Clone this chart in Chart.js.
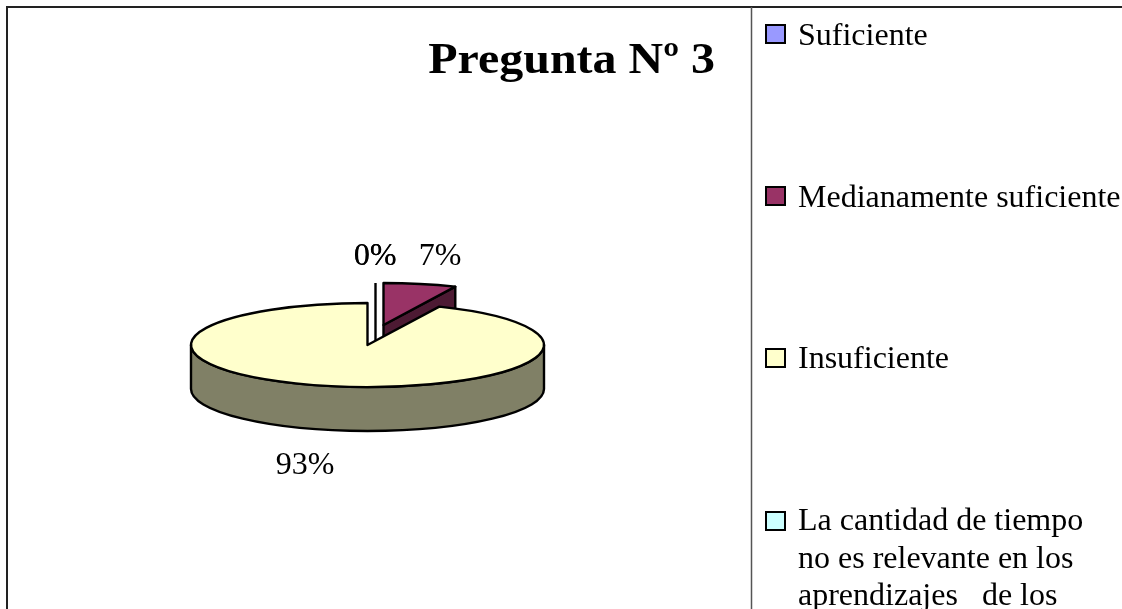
<!DOCTYPE html>
<html><head><meta charset="utf-8">
<style>html,body{margin:0;padding:0;background:#fff;overflow:hidden}canvas{display:block}</style>
<script src="https://cdn.jsdelivr.net/npm/chart.js@4/dist/chart.umd.min.js"></script>
</head><body><canvas id="c" width="1122" height="609"></canvas>
<script>
const chartTitle = 'Pregunta Nº 3';
const categories = ['Suficiente','Medianamente suficiente','Insuficiente','La cantidad de tiempo no es relevante en los aprendizajes de los'];
const legendLines = [['Suficiente'],['Medianamente suficiente'],['Insuficiente'],['La cantidad de tiempo','no es relevante en los','aprendizajes   de los']];
const seriesValues = [0,1,14,0];
const sliceColors = ['#9999FF','#993366','#FFFFCC','#CCFFFF'];
const sideColors = ['#4d4d80','#4d1a33','#808066','#668080'];
const explodeX = [8,16,0,0];
const explodeY = [-20,-20,0,0];
const labelX = [375,440,305,375.4];
const labelY = [265,265,474,265];
const legendTop = [25,187,349,512];
const legendBase = [45,207,368,530];
const SERIF = '"Liberation Serif","Times New Roman",serif';
const squash = 42/176.5, depth = 44;

function wedge(ctx,x,y,r,ry,a0,a1){
  ctx.beginPath();ctx.moveTo(x,y);ctx.ellipse(x,y,r,ry,0,a0,a1);ctx.closePath();
}
const pie3d = {
  id:'pie3d',
  beforeDatasetDraw(chart){
    const ctx = chart.ctx, arcs = chart.getDatasetMeta(0).data;
    ctx.save();
    ctx.strokeStyle='#222';ctx.lineWidth=2;
    ctx.beginPath();ctx.moveTo(1122,7);ctx.lineTo(7,7);ctx.lineTo(7,609);ctx.stroke();
    ctx.strokeStyle='#555';ctx.lineWidth=1.5;
    ctx.beginPath();ctx.moveTo(751.5,7);ctx.lineTo(751.5,609);ctx.stroke();
    ctx.strokeStyle='#000';ctx.lineWidth=2.4;ctx.lineJoin='round';
    const order = [0,1,3,2];
    order.forEach(i=>{
      const a = arcs[i], r = a.outerRadius, ry = r*squash;
      const x = a.x+explodeX[i], y = a.y+explodeY[i];
      const s = a.startAngle, e = a.endAngle;
      if(e-s < 1e-6){
        if(i===0){
          ctx.beginPath();ctx.moveTo(x,y-ry);ctx.lineTo(x,y+depth);ctx.stroke();
        }
        return;
      }
      const fromA = Math.max(s, 0), toA = Math.min(e, Math.PI);
      if(toA>fromA){
        ctx.beginPath();
        ctx.ellipse(x,y,r,ry,0,fromA,toA);
        ctx.lineTo(x+Math.cos(toA)*r, y+Math.sin(toA)*ry+depth);
        ctx.ellipse(x,y+depth,r,ry,0,toA,fromA,true);
        ctx.closePath();
        ctx.fillStyle=sideColors[i];ctx.fill();ctx.stroke();
      }
      if(e-s < Math.PI){
        const px=x+Math.cos(e)*r, py=y+Math.sin(e)*ry;
        ctx.beginPath();ctx.moveTo(x,y);ctx.lineTo(px,py);ctx.lineTo(px,py+depth);ctx.lineTo(x,y+depth);ctx.closePath();
        ctx.fillStyle=sideColors[i];ctx.fill();ctx.stroke();
      }
      wedge(ctx,x,y,r,ry,s,e);
      ctx.fillStyle=sliceColors[i];ctx.fill();ctx.stroke();
    });
    ctx.restore();
    return false;
  },
  afterDraw(chart){
    const ctx = chart.ctx;
    ctx.save();
    ctx.fillStyle='#000';ctx.textBaseline='alphabetic';
    ctx.save();
    ctx.translate(715,73);ctx.scale(1.09,1);
    ctx.font='bold 44px '+SERIF;ctx.textAlign='right';
    ctx.fillText(chartTitle,0,0);
    ctx.restore();
    const total = seriesValues.reduce((p,v)=>p+v,0);
    ctx.font='32px '+SERIF;ctx.textAlign='center';
    seriesValues.forEach((v,i)=>ctx.fillText(Math.round(v/total*100)+'%',labelX[i],labelY[i]));
    ctx.textAlign='left';
    legendLines.forEach((lines,i)=>{
      ctx.fillStyle=sliceColors[i];ctx.strokeStyle='#000';ctx.lineWidth=2;
      ctx.fillRect(766,legendTop[i],19,18);ctx.strokeRect(766,legendTop[i],19,18);
      ctx.fillStyle='#000';
      lines.forEach((t,k)=>ctx.fillText(t,798,legendBase[i]+k*37.5));
    });
    ctx.restore();
  }
};
new Chart(document.getElementById('c'),{
  type:'pie',
  data:{labels:categories,datasets:[{data:seriesValues,backgroundColor:sliceColors,borderWidth:0}]},
  options:{
    responsive:false,animation:false,
    layout:{padding:{left:191,right:578,top:168.5,bottom:87.5}},
    plugins:{legend:{display:false},tooltip:{enabled:false},title:{display:false}}
  },
  plugins:[pie3d]
});
</script></body></html>
